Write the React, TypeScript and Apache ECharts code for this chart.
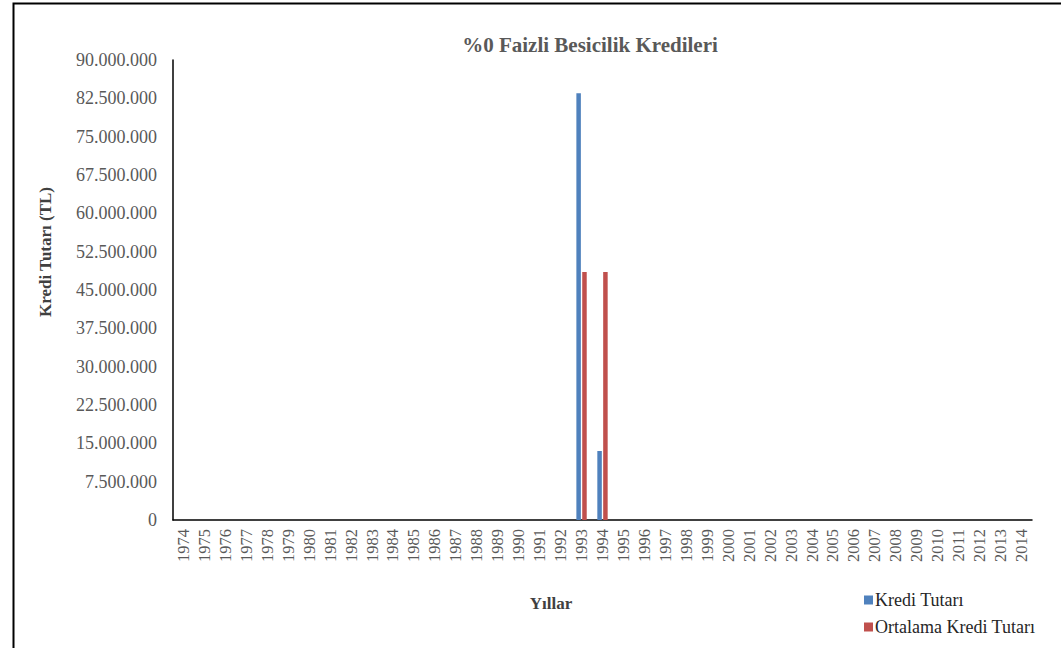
import React, { useEffect, useRef } from "react";
import * as echarts from "echarts";

// Years on the category axis
const years: string[] = [];
for (let y = 1974; y <= 2014; y++) years.push(String(y));

// Loans granted (TL) – only 1993 and 1994 have values
const krediTutari: number[] = [
  0, 0, 0, 0, 0, 0, 0, 0, 0, 0, 0, 0, 0, 0, 0, 0, 0, 0, 0,
  83500000, 13500000,
  0, 0, 0, 0, 0, 0, 0, 0, 0, 0, 0, 0, 0, 0, 0, 0, 0, 0, 0, 0,
];

// Average loan amount (TL)
const ortalamaKrediTutari: number[] = [
  0, 0, 0, 0, 0, 0, 0, 0, 0, 0, 0, 0, 0, 0, 0, 0, 0, 0, 0,
  48500000, 48500000,
  0, 0, 0, 0, 0, 0, 0, 0, 0, 0, 0, 0, 0, 0, 0, 0, 0, 0, 0, 0,
];

const seriesNames = ["Kredi Tutarı", "Ortalama Kredi Tutarı"];
const FONT = '"Times New Roman", "Liberation Serif", Times, serif';
const GREY = "#595959";

const formatTr = (v: number) =>
  String(Math.round(v)).replace(/\B(?=(\d{3})+(?!\d))/g, ".");

export default function App() {
  const ref = useRef<HTMLDivElement>(null);

  useEffect(() => {
    if (!ref.current) return;
    const chart = echarts.init(ref.current, undefined, { renderer: "svg" });
    chart.setOption({
      animation: false,
      backgroundColor: "#ffffff",
      textStyle: { fontFamily: FONT },
      title: {
        text: "%0 Faizli Besicilik Kredileri",
        left: 585,
        top: 29,
        textAlign: "center",
        textStyle: {
          fontFamily: FONT,
          fontSize: 21,
          fontWeight: "bold",
          color: GREY,
        },
      },
      legend: {
        orient: "vertical",
        left: 859,
        top: 586,
        itemWidth: 9,
        itemHeight: 9,
        itemGap: 9,
        icon: "rect",
        data: seriesNames,
        textStyle: { fontFamily: FONT, fontSize: 18, color: "#262626", padding: [0, 0, 0, -3] },
      },
      grid: { left: 173, right: 29, top: 60, bottom: 128, containLabel: false },
      xAxis: {
        type: "category",
        data: years,
        axisLine: { lineStyle: { color: "#000000", width: 1.5 } },
        axisTick: { show: false },
        axisLabel: {
          rotate: 90,
          interval: 0,
          fontFamily: FONT,
          fontSize: 16.5,
          color: GREY,
          margin: 9,
        },
      },
      yAxis: {
        type: "value",
        min: 0,
        max: 90000000,
        interval: 7500000,
        splitLine: { show: false },
        axisLine: { show: true, lineStyle: { color: "#000000", width: 1.5 } },
        axisTick: { show: false },
        axisLabel: {
          fontFamily: FONT,
          fontSize: 18,
          color: GREY,
          margin: 16,
          formatter: (v: number) => formatTr(v),
        },
      },
      series: [
        {
          name: seriesNames[0],
          type: "bar",
          data: krediTutari,
          barWidth: 4.5,
          barGap: "30%",
          itemStyle: { color: "#4F81BD" },
        },
        {
          name: seriesNames[1],
          type: "bar",
          data: ortalamaKrediTutari,
          barWidth: 4.5,
          itemStyle: { color: "#C0504D" },
        },
      ],
      graphic: [
        {
          type: "rect",
          shape: { x: 13.5, y: 3.5, width: 1200, height: 800 },
          style: { fill: "none", stroke: "#000000", lineWidth: 2 },
          silent: true,
        },
        {
          type: "text",
          x: 45,
          y: 252,
          rotation: Math.PI / 2,
          style: {
            text: "Kredi Tutarı (TL)",
            font: `bold 17px ${FONT}`,
            fill: "#404040",
            align: "center",
            verticalAlign: "middle",
          },
        },
        {
          type: "text",
          x: 551,
          y: 603,
          style: {
            text: "Yıllar",
            font: `bold 17px ${FONT}`,
            fill: "#404040",
            align: "center",
            verticalAlign: "middle",
          },
        },
      ],
    });
    return () => chart.dispose();
  }, []);

  return (
    <div
      ref={ref}
      style={{ position: "absolute", left: 0, top: 0, width: 1061, height: 648 }}
    />
  );
}
